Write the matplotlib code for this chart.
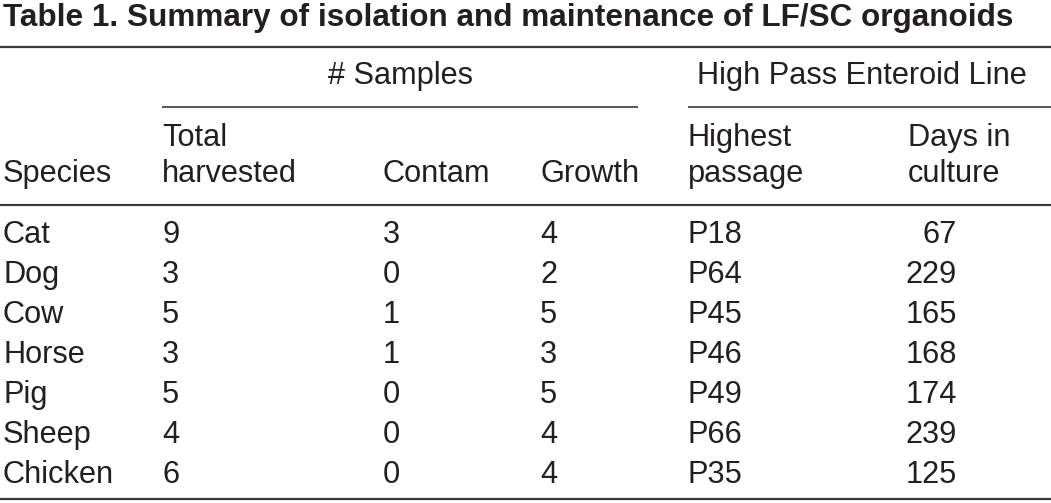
import matplotlib
matplotlib.use("Agg")
import matplotlib.pyplot as plt

# ---- data ----
title = "Table 1. Summary of isolation and maintenance of LF/SC organoids"
group_headers = ["# Samples", "High Pass Enteroid Line"]
col_headers = [("", "Species"), ("Total", "harvested"), ("", "Contam"), ("", "Growth"),
               ("Highest", "passage"), ("Days in", "culture")]
species = ["Cat", "Dog", "Cow", "Horse", "Pig", "Sheep", "Chicken"]
total_harvested = [9, 3, 5, 3, 5, 4, 6]
contam = [3, 0, 1, 1, 0, 0, 0]
growth = [4, 2, 5, 3, 5, 4, 4]
highest_passage = ["P18", "P64", "P45", "P46", "P49", "P66", "P35"]
days_in_culture = [67, 229, 165, 168, 174, 239, 125]

# ---- layout (pixel coordinates) ----
W, H = 1051, 503
fig = plt.figure(figsize=(W / 100, H / 100), dpi=100)
ax = fig.add_axes([0, 0, 1, 1])
ax.set_xlim(0, W)
ax.set_ylim(H, 0)
ax.axis("off")

txt = "#231f20"
rule = "#3a3a3a"
font = "Liberation Sans"
fs = 22.15

ax.text(3, 26, title, fontsize=22.7, fontweight="bold", family=font,
        color=txt, va="baseline", ha="left")

def hrule(y, x0, x1, lw):
    ax.plot([x0, x1], [y, y], color=rule, lw=lw, solid_capstyle="butt")

hrule(46.8, 0, W, 1.6)
hrule(106.5, 162, 638, 1.2)
hrule(106.5, 688, W, 1.2)
hrule(204.5, 0, W, 1.6)
hrule(498.5, 0, W, 1.6)

ax.text(400, 84, group_headers[0], fontsize=fs, family=font, color=txt,
        va="baseline", ha="center")
ax.text(862, 84, group_headers[1], fontsize=fs, family=font, color=txt,
        va="baseline", ha="center")

col_x = [3, 162, 383, 540, 688, 908]
for x, (l1, l2) in zip(col_x, col_headers):
    if l1:
        ax.text(x, 146, l1, fontsize=fs, family=font, color=txt, va="baseline", ha="left")
    ax.text(x, 182, l2, fontsize=fs, family=font, color=txt, va="baseline", ha="left")

for i, sp in enumerate(species):
    yb = 243 + 40 * i
    ax.text(col_x[0], yb, sp, fontsize=fs, family=font, color=txt, va="baseline")
    ax.text(col_x[1], yb, str(total_harvested[i]), fontsize=fs, family=font, color=txt, va="baseline")
    ax.text(col_x[2], yb, str(contam[i]), fontsize=fs, family=font, color=txt, va="baseline")
    ax.text(col_x[3], yb, str(growth[i]), fontsize=fs, family=font, color=txt, va="baseline")
    ax.text(col_x[4], yb, highest_passage[i], fontsize=fs, family=font, color=txt, va="baseline")
    ax.text(957, yb, str(days_in_culture[i]), fontsize=fs, family=font, color=txt,
            va="baseline", ha="right")

fig.savefig("out.png", dpi=100)
